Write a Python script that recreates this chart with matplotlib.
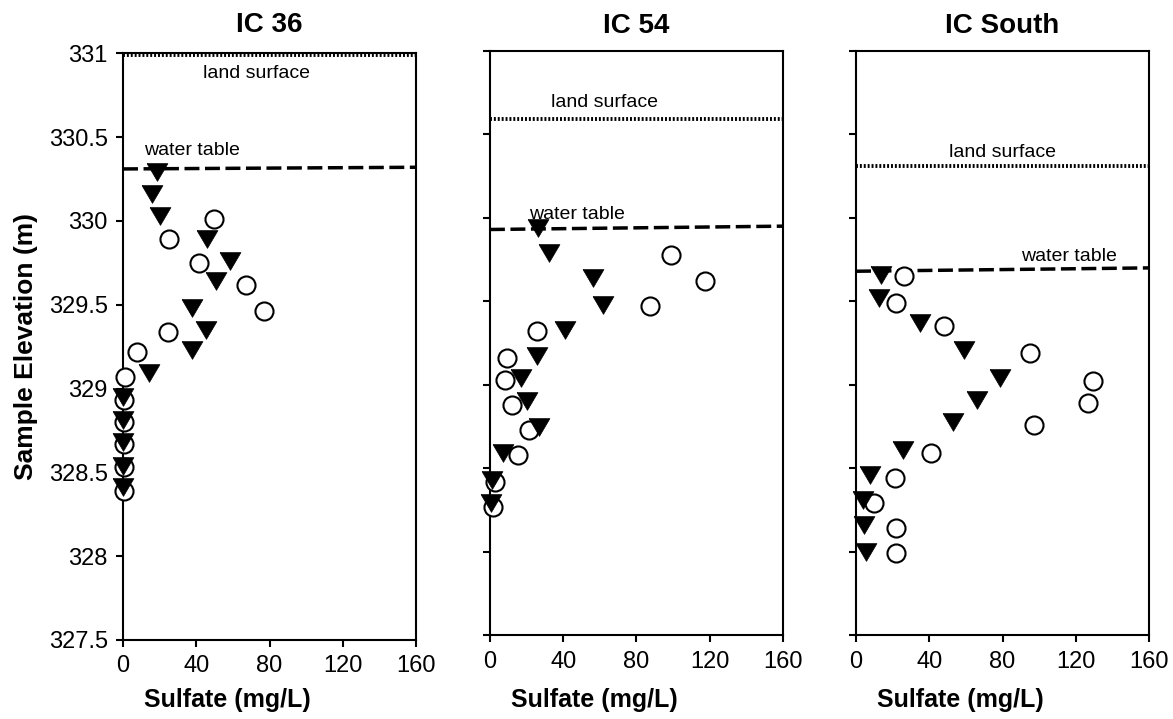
import matplotlib
matplotlib.use("Agg")
import matplotlib.pyplot as plt

plt.rcParams['font.family'] = ['Liberation Sans', 'DejaVu Sans']

# --- data (x = sulfate mg/L, y = sample elevation m) ---
titles = ["IC 36", "IC 54", "IC South"]

# IC 36
ic36_tri_x = [18.4, 16.0, 20.2, 45.7, 58.5, 50.8, 37.5, 45.2, 37.5, 14.4,
              0.2, 0.2, 0.2, 0.2, 0.2]
ic36_tri_y = [330.29, 330.16, 330.03, 329.89, 329.76, 329.64, 329.48, 329.35, 329.23, 329.09,
              328.95, 328.81, 328.68, 328.54, 328.41]
ic36_circ_x = [49.7, 25.1, 41.5, 67.2, 77.2, 24.4, 7.5, 1.1,
               0.5, 0.5, 0.5, 0.5, 0.5]
ic36_circ_y = [330.01, 329.89, 329.75, 329.62, 329.46, 329.34, 329.22, 329.07,
               328.93, 328.80, 328.67, 328.53, 328.39]

# IC 54
ic54_tri_x = [26.4, 32.2, 56.4, 61.5, 41.0, 25.8, 16.8, 20.0, 26.9, 7.3, 0.9, 0.4]
ic54_tri_y = [329.94, 329.79, 329.64, 329.48, 329.33, 329.17, 329.04, 328.90, 328.75,
              328.59, 328.43, 328.29]
ic54_circ_x = [98.9, 117.4, 87.4, 25.8, 9.1, 8.2, 11.8, 21.5, 15.5, 2.7, 1.8]
ic54_circ_y = [329.78, 329.62, 329.47, 329.32, 329.16, 329.03, 328.88, 328.73, 328.58,
               328.42, 328.27]

# IC South
icS_tri_x = [13.7, 12.7, 35.1, 58.8, 78.6, 66.1, 52.8, 25.5, 7.8, 3.6, 4.5, 5.5]
icS_tri_y = [329.66, 329.52, 329.37, 329.21, 329.04, 328.91, 328.78, 328.61, 328.46,
             328.31, 328.16, 328.00]
icS_circ_x = [26.4, 21.8, 47.9, 95.2, 129.3, 126.4, 97.0, 41.0, 21.3, 9.7, 21.8, 21.8]
icS_circ_y = [329.65, 329.49, 329.35, 329.19, 329.02, 328.89, 328.76, 328.59, 328.44,
              328.29, 328.14, 327.99]

# reference lines (x ends, elevations)
line_x = [0, 160]
land_surface = [[330.99, 330.99], [330.59, 330.59], [330.31, 330.31]]
water_table = [[330.31, 330.32], [329.93, 329.95], [329.68, 329.70]]

# label positions (x, y)
land_lbl = [(73, 330.88), (62.8, 330.69), (80.1, 330.39)]
water_lbl = [(37.5, 330.42), (47.3, 330.02), (116.5, 329.77)]

tri_x = [ic36_tri_x, ic54_tri_x, icS_tri_x]
tri_y = [ic36_tri_y, ic54_tri_y, icS_tri_y]
circ_x = [ic36_circ_x, ic54_circ_x, icS_circ_x]
circ_y = [ic36_circ_y, ic54_circ_y, icS_circ_y]

fig = plt.figure(figsize=(11.73, 7.19), dpi=100)

positions = [
    [0.1049, 0.1099, 0.2498, 0.8160],
    [0.4177, 0.1165, 0.2498, 0.8128],
    [0.7298, 0.1165, 0.2498, 0.8128],
]
xlabel_y = [-0.082, -0.091, -0.091]

tri_marker = [(-1, 0.85), (1, 0.85), (0, -0.85), (-1, 0.85)]

for i, pos in enumerate(positions):
    ax = fig.add_axes(pos)

    ax.plot(line_x, land_surface[i], color='black', lw=2.8,
            linestyle=(0, (0.5, 0.5)), zorder=2)
    ax.plot(line_x, water_table[i], color='black', lw=2.5,
            linestyle=(0, (4.3, 1.6)), zorder=2)

    ax.text(*land_lbl[i], "land surface", fontsize=14, ha='center', va='center')
    ax.text(*water_lbl[i], "water table", fontsize=14, ha='center', va='center')

    ax.plot(circ_x[i], circ_y[i], linestyle='none', marker='o', ms=13,
            mfc='white', mec='black', mew=1.5, clip_on=False, zorder=3)
    ax.plot(tri_x[i], tri_y[i], linestyle='none', marker=tri_marker, ms=15,
            mfc='black', mec='black', mew=0.5, clip_on=False, zorder=4)

    ax.set_xlim(0, 160)
    ax.set_ylim(327.5, 331)
    ax.set_xticks([0, 40, 80, 120, 160])
    ax.set_yticks([327.5, 328, 328.5, 329, 329.5, 330, 330.5, 331])
    ax.tick_params(direction='out', length=5, width=1.5, labelsize=17, pad=6)

    if i == 0:
        ax.set_yticklabels(['327.5', '328', '328.5', '329', '329.5', '330', '330.5', '331'])
        ax.set_ylabel("Sample Elevation (m)", fontsize=19, fontweight='bold', labelpad=8)
        ax.set_title(titles[i], fontsize=20, fontweight='bold', pad=15)
    else:
        ax.set_yticklabels([])
        ax.set_title(titles[i], fontsize=20, fontweight='bold', pad=13)

    ax.set_xlabel("Sulfate (mg/L)", fontsize=18, fontweight='bold')
    ax.xaxis.set_label_coords(0.355, xlabel_y[i])

    for sp in ax.spines.values():
        sp.set_linewidth(1.5)

plt.savefig("out.png", dpi=100)
